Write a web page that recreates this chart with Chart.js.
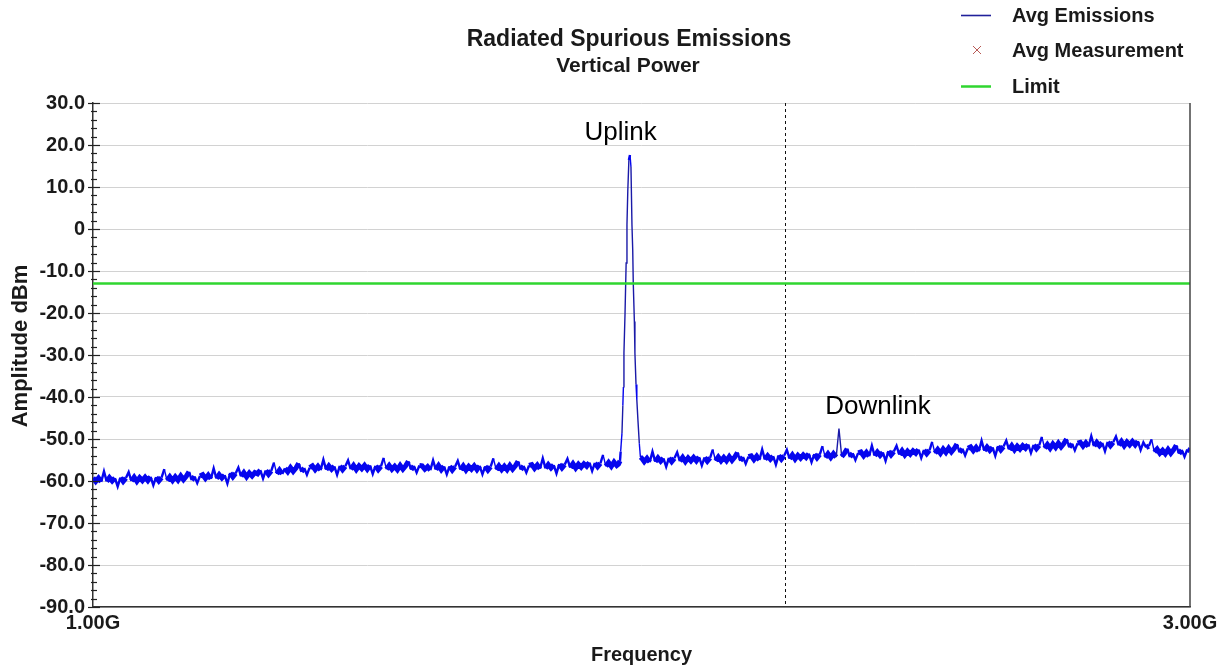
<!DOCTYPE html>
<html>
<head>
<meta charset="utf-8">
<title>Radiated Spurious Emissions</title>
<script src="https://cdn.jsdelivr.net/npm/chart.js@4.4.1/dist/chart.umd.min.js"></script>
<style>
  html, body { margin: 0; padding: 0; background: #ffffff; }
  #wrap { width: 1224px; height: 668px; }
</style>
</head>
<body>
<div id="wrap"><canvas id="chart" width="1224" height="668"></canvas></div>
<script>
// ---- Measured trace (dBm), 5 MHz sweep steps ----
const floorStepMHz = 5;

// Noise floor from 1000 MHz up to just below the uplink carrier
const floorBelowStartMHz = 1000;
const floorBelowUplinkDbm = [
  -59.2, -60.1, -59.3, -60.2, -57.7, -60.1, -59.2, -60.0, -59.3, -61.3,
  -59.2, -60.1, -59.3, -57.9, -60.0, -59.1, -60.1, -59.2, -59.9, -59.1,
  -59.9, -59.0, -61.0, -59.1, -60.0, -59.2, -57.2, -59.9, -59.0, -59.9,
  -59.0, -59.8, -58.8, -59.7, -58.9, -57.8, -59.8, -58.9, -60.5, -58.8,
  -58.5, -59.4, -58.6, -59.5, -57.0, -59.4, -58.5, -59.3, -58.6, -60.6,
  -58.1, -59.0, -58.2, -56.8, -58.9, -58.0, -59.0, -58.1, -58.8, -58.0,
  -58.3, -57.4, -59.4, -57.5, -58.4, -57.6, -55.6, -58.3, -57.4, -58.3,
  -57.0, -57.8, -56.8, -57.7, -56.9, -55.8, -57.8, -56.9, -58.5, -56.8,
  -56.4, -57.3, -56.5, -57.4, -54.9, -57.3, -56.4, -57.2, -56.5, -58.5,
  -56.4, -57.3, -56.5, -55.1, -57.2, -56.3, -57.3, -56.4, -57.1, -56.3,
  -57.2, -56.3, -58.3, -56.4, -57.3, -56.5, -54.5, -57.2, -56.3, -57.2,
  -56.5, -57.3, -56.3, -57.2, -56.4, -55.3, -57.3, -56.4, -58.0, -56.3,
  -56.4, -57.2, -56.6, -57.4, -55.1, -57.3, -56.3, -57.3, -56.5, -58.4,
  -56.5, -57.4, -56.6, -55.2, -57.3, -56.4, -57.4, -56.5, -57.2, -56.4,
  -57.3, -56.4, -58.4, -56.5, -57.4, -56.6, -54.6, -57.3, -56.4, -57.3,
  -56.5, -57.3, -56.3, -57.2, -56.4, -55.3, -57.3, -56.4, -58.0, -56.3,
  -56.1, -57.0, -56.2, -57.1, -54.6, -57.0, -56.1, -56.9, -56.2, -58.2,
  -56.0, -56.9, -56.1, -54.7, -56.8, -55.9, -56.9, -56.0, -56.7, -55.9,
  -56.5, -55.6, -57.6, -55.7, -56.6, -55.8, -53.8, -56.5, -55.6, -56.5,
  -55.5, -56.3
];

// Uplink carrier, sampled more finely across the peak
const uplinkMHz = [
  1958, 1960.8, 1962, 1964.4, 1966, 1967, 1968, 1970, 1972, 1973.5, 1975, 1977,
  1979, 1980.8, 1982.6, 1984, 1985, 1987, 1988, 1990, 1991.5, 1993.5, 1996, 1998
];
const uplinkDbm = [
  -56.0, -55.2, -53.0, -48.6, -42.0, -37.6, -29.5, -20.0, -8.1, 1.0, 9.0, 16.4,
  17.6, 14.8, 1.0, -5.0, -12.9, -22.0, -29.5, -37.0, -40.7, -45.5, -51.0, -54.3
];

// Noise floor from 2000 MHz to 3000 MHz (downlink spur near 2360 MHz)
const floorAboveStartMHz = 2000;
const floorAboveUplinkDbm = [
  -54.5, -55.4, -54.6, -55.5, -53.0, -55.4, -54.5, -55.3, -54.6, -56.6,
  -54.5, -55.4, -54.6, -53.2, -55.3, -54.4, -55.4, -54.5, -55.2, -54.4,
  -55.2, -54.3, -56.3, -54.4, -55.3, -54.5, -52.5, -55.2, -54.3, -55.2,
  -54.4, -55.2, -54.2, -55.1, -54.3, -53.2, -55.2, -54.3, -55.9, -54.2,
  -54.0, -54.9, -54.1, -55.0, -52.5, -54.9, -54.0, -54.8, -54.1, -56.1,
  -53.9, -54.8, -54.0, -52.6, -54.7, -53.8, -54.8, -53.9, -54.6, -53.8,
  -54.4, -53.5, -55.5, -53.6, -54.5, -53.7, -51.7, -54.4, -53.5, -54.4,
  -53.5, -54.3, -47.5, -54.2, -53.4, -52.3, -54.3, -53.4, -55.0, -53.3,
  -53.1, -54.0, -53.2, -54.1, -51.6, -54.0, -53.1, -53.9, -53.2, -55.2,
  -52.9, -53.8, -53.0, -51.6, -53.7, -52.8, -53.8, -52.9, -53.6, -52.8,
  -53.4, -52.5, -54.5, -52.6, -53.5, -52.7, -50.7, -53.4, -52.5, -53.4,
  -52.4, -53.2, -52.2, -53.1, -52.3, -51.2, -53.2, -52.3, -53.9, -52.2,
  -51.9, -52.8, -52.0, -52.9, -50.4, -52.8, -51.9, -52.7, -52.0, -54.0,
  -51.7, -52.6, -51.8, -50.4, -52.5, -51.6, -52.6, -51.7, -52.4, -51.6,
  -52.2, -51.3, -53.3, -51.4, -52.3, -51.5, -49.5, -52.2, -51.3, -52.2,
  -51.2, -52.0, -51.0, -51.9, -51.1, -50.0, -52.0, -51.1, -52.7, -51.0,
  -50.8, -51.7, -50.9, -51.8, -49.3, -51.7, -50.8, -51.6, -50.9, -52.9,
  -50.7, -51.6, -50.8, -49.4, -51.5, -50.6, -51.6, -50.7, -51.4, -50.6,
  -51.4, -50.5, -52.6, -50.8, -52.0, -51.7, -50.1, -53.1, -52.4, -53.4,
  -52.7, -53.5, -52.5, -53.4, -52.6, -51.5, -53.5, -52.6, -54.2, -52.5,
  -52.8
];

// Averaged spot measurements (none recorded in this sweep)
const avgMeasurementMHz = [];
const avgMeasurementDbm = [];

// Emission limit
const limitMHz = [1000, 3000];
const limitDbm = [-13, -13];

// Axis ticks
const xTickMHz = [1000, 3000];
const xTickLabels = ['1.00G', '3.00G'];
const yMin = -90, yMax = 30, yMajorStep = 10, yMinorStep = 2;

// Band-edge marker and band annotations
const markerMHz = 2262;
const bandNotes = [
  { text: 'Uplink',   mhz: 1962, dbm: 23.0 },
  { text: 'Downlink', mhz: 2431, dbm: -42.4 }
];

// ---- Build point lists ----
const tracePoints = [];
floorBelowUplinkDbm.forEach((v, i) => tracePoints.push({ x: floorBelowStartMHz + i * floorStepMHz, y: v }));
uplinkMHz.forEach((f, i) => tracePoints.push({ x: f, y: uplinkDbm[i] }));
floorAboveUplinkDbm.forEach((v, i) => tracePoints.push({ x: floorAboveStartMHz + i * floorStepMHz, y: v }));

const measurementPoints = avgMeasurementMHz.map((f, i) => ({ x: f, y: avgMeasurementDbm[i] }));
const limitPoints = limitMHz.map((f, i) => ({ x: f, y: limitDbm[i] }));

// ---- Styling ----
const FONT = '"Liberation Sans", Arial, Helvetica, sans-serif';
const INK = '#1a1a1a';
const TRACE_COLOR = '#0606ee';
const CARRIER_COLOR = '#1a1aa8';
const LEGEND_TRACE_COLOR = '#20209a';
const MEAS_COLOR = '#b85a55';
const LIMIT_COLOR = '#2fd62f';

// Jumps between sweep points: small ones form the dense floor, larger ones are thinner spikes
const jump = c => Math.abs(c.p1.parsed.y - c.p0.parsed.y);
const segWidth = c => {
  const j = jump(c);
  if (j <= 1.15) return 5;
  if (j <= 2.6) return 2.4;
  return 1.4;
};

// Extra drawing: frame, axis tick marks, marker, titles, legend, notes
const decorPlugin = {
  id: 'decor',
  beforeDatasetsDraw(chart) {
    const { ctx, chartArea: a, scales: { x } } = chart;
    const mx = Math.round(x.getPixelForValue(markerMHz)) + 0.5;
    ctx.save();
    ctx.strokeStyle = '#111';
    ctx.lineWidth = 1;
    ctx.setLineDash([3, 3]);
    ctx.beginPath();
    ctx.moveTo(mx, a.top);
    ctx.lineTo(mx, a.bottom);
    ctx.stroke();
    ctx.restore();
  },
  afterDraw(chart) {
    const { ctx, chartArea: a, scales: { x, y } } = chart;
    ctx.save();

    // right frame edge
    ctx.strokeStyle = '#444';
    ctx.lineWidth = 1.5;
    ctx.beginPath();
    ctx.moveTo(a.right, a.top);
    ctx.lineTo(a.right, a.bottom);
    ctx.stroke();

    // y-axis major/minor tick marks crossing the axis line
    ctx.strokeStyle = '#222';
    ctx.lineWidth = 1.2;
    for (let v = yMin; v <= yMax; v += yMinorStep) {
      const py = Math.round(y.getPixelForValue(v)) + 0.5;
      const major = v % yMajorStep === 0;
      ctx.beginPath();
      ctx.moveTo(a.left - (major ? 5 : 2), py);
      ctx.lineTo(a.left + (major ? 7 : 4), py);
      ctx.stroke();
    }

    // titles
    ctx.fillStyle = INK;
    ctx.textAlign = 'center';
    ctx.textBaseline = 'middle';
    ctx.font = 'bold 23px ' + FONT;
    ctx.fillText('Radiated Spurious Emissions', 629, 40);
    ctx.font = 'bold 21px ' + FONT;
    ctx.fillText('Vertical Power', 628, 66);

    // y-axis title
    ctx.save();
    ctx.translate(21, 346);
    ctx.rotate(-Math.PI / 2);
    ctx.font = 'bold 22px ' + FONT;
    ctx.fillText('Amplitude dBm', 0, 0);
    ctx.restore();

    // band notes
    ctx.font = '26px ' + FONT;
    ctx.fillStyle = '#000';
    bandNotes.forEach(n => {
      ctx.fillText(n.text, x.getPixelForValue(n.mhz), y.getPixelForValue(n.dbm));
    });

    // legend
    const ds = chart.data.datasets;
    const rows = [15, 50, 86];
    ctx.font = 'bold 20px ' + FONT;
    ctx.textAlign = 'left';
    ds.forEach((d, i) => {
      const ry = rows[i];
      ctx.strokeStyle = d.legendColor || d.borderColor;
      if (d.showLine === false) {
        ctx.lineWidth = 1;
        const cx = 977, s = 4;
        ctx.beginPath();
        ctx.moveTo(cx - s, ry - s); ctx.lineTo(cx + s, ry + s);
        ctx.moveTo(cx - s, ry + s); ctx.lineTo(cx + s, ry - s);
        ctx.stroke();
      } else {
        ctx.lineWidth = d.legendWidth || d.borderWidth;
        ctx.beginPath();
        ctx.moveTo(961, ry + 0.5);
        ctx.lineTo(991, ry + 0.5);
        ctx.stroke();
      }
      ctx.fillStyle = INK;
      ctx.fillText(d.label, 1012, ry + 1);
    });
    ctx.restore();
  }
};

new Chart(document.getElementById('chart'), {
  type: 'line',
  data: {
    datasets: [
      {
        label: 'Avg Emissions',
        data: tracePoints,
        borderColor: TRACE_COLOR,
        legendColor: LEGEND_TRACE_COLOR,
        legendWidth: 1.6,
        borderWidth: 2.4,
        pointRadius: 0,
        tension: 0,
        segment: {
          borderWidth: segWidth,
          borderColor: c => (jump(c) > 4.5 ? CARRIER_COLOR : TRACE_COLOR)
        },
        order: 1
      },
      {
        label: 'Avg Measurement',
        data: measurementPoints,
        showLine: false,
        pointStyle: 'crossRot',
        borderColor: MEAS_COLOR,
        pointRadius: 5,
        order: 0
      },
      {
        label: 'Limit',
        data: limitPoints,
        borderColor: LIMIT_COLOR,
        borderWidth: 2.5,
        pointRadius: 0,
        tension: 0,
        order: 0
      }
    ]
  },
  options: {
    responsive: false,
    animation: false,
    devicePixelRatio: 1,
    layout: { padding: { top: 103, right: 34, bottom: 0, left: 0 } },
    plugins: {
      legend: { display: false },
      tooltip: { enabled: false },
      title: { display: false }
    },
    scales: {
      x: {
        type: 'linear',
        min: 1000,
        max: 3000,
        afterFit: s => { s.height = 61; },
        afterBuildTicks: s => { s.ticks = xTickMHz.map(v => ({ value: v })); },
        ticks: {
          autoSkip: false,
          maxRotation: 0,
          padding: 4,
          color: INK,
          font: { family: FONT, size: 20, weight: 'bold' },
          callback: (v, i) => xTickLabels[i]
        },
        grid: { display: false, drawTicks: false },
        border: { display: true, color: '#333', width: 1.5 },
        title: {
          display: true,
          text: 'Frequency',
          color: INK,
          font: { family: FONT, size: 20, weight: 'bold' },
          padding: { top: 0, bottom: 1 }
        }
      },
      y: {
        min: yMin,
        max: yMax,
        afterFit: s => { s.width = 93; },
        ticks: {
          stepSize: yMajorStep,
          padding: 8,
          color: INK,
          font: { family: FONT, size: 20, weight: 'bold' },
          callback: v => (v === 0 ? '0' : Number(v).toFixed(1))
        },
        grid: { color: '#d2d2d2', lineWidth: 1, drawTicks: false },
        border: { display: true, color: '#333', width: 1.5 },
        title: { display: false }
      }
    }
  },
  plugins: [decorPlugin]
});
</script>
</body>
</html>
